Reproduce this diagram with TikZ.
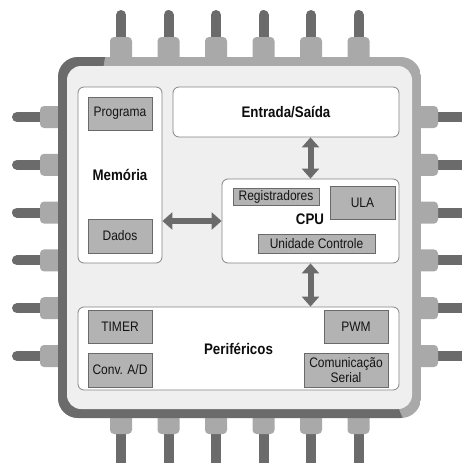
\documentclass[tikz,border=0pt]{standalone}
\usepackage{fontspec}
\setmainfont[FakeStretch=0.87]{Liberation Sans}
\usetikzlibrary{arrows.meta}

\definecolor{pindark}{HTML}{6B6B6B}
\definecolor{pinlight}{HTML}{A9A9A9}
\definecolor{panelgray}{HTML}{EFEFEF}
\definecolor{boxline}{HTML}{858585}
\definecolor{unitfill}{HTML}{B3B3B3}
\definecolor{unitline}{HTML}{6A6A6A}

\tikzset{
  blockbox/.style={draw=boxline, fill=white, rounded corners=6pt, line width=0.8pt,
    font=\fontsize{15.3}{17}\selectfont\bfseries, text=black!95},
  unitbox/.style={draw=unitline, fill=unitfill, line width=0.8pt, align=center,
    font=\fontsize{13.8}{15}\selectfont, text=black!92, inner sep=0pt},
  busarrow/.style={draw=pindark, line width=6pt,
    {Triangle[width=17pt,length=10pt]}-{Triangle[width=17pt,length=10pt]}}
}

\begin{document}
\begin{tikzpicture}[x=1pt,y=-1pt]
\clip (0,0) rectangle (462,463);
% pins
\foreach \i in {0,...,5}{
  \pgfmathsetmacro{\px}{121+47.5*\i}
  \pgfmathsetmacro{\py}{117+47.8*\i}
  \draw[pindark, line width=10pt, line cap=round] (\px,15) -- (\px,45);
  \draw[pindark, line width=10pt, line cap=round] (\px,425) -- (\px,475);
  \draw[pindark, line width=10pt, line cap=round] (17,\py) -- (45,\py);
  \draw[pindark, line width=10pt, line cap=round] (430,\py) -- (475,\py);
  \fill[pinlight, rounded corners=4pt] (\px-11,37) rectangle (\px+11,65);
  \fill[pinlight, rounded corners=4pt] (\px-11,410) rectangle (\px+11,434);
  \fill[pinlight, rounded corners=4pt] (40,\py-11) rectangle (66,\py+11);
  \fill[pinlight, rounded corners=4pt] (413,\py-11) rectangle (438,\py+11);
}
% chip frame
\begin{scope}
  \clip[rounded corners=20pt] (58,57) rectangle (421,418);
  \fill[pinlight] (58,57) rectangle (421,418);
  \fill[pindark] (40,40) -- (108,40) -- (102,75) -- (395,400) -- (412,440) -- (40,440) -- cycle;
\end{scope}
\fill[panelgray, rounded corners=14pt] (67,66) rectangle (412,409);

% main blocks
\node[blockbox, minimum width=84pt, minimum height=176pt] (mem) at (120,175) {Memória};
\node[blockbox, minimum width=226pt, minimum height=50pt] (es) at (286,112) {Entrada/Saída};
\node[blockbox, minimum width=177pt, minimum height=84pt] (cpu) at (310.5,221) {};
\node[font=\fontsize{15.3}{17}\selectfont\bfseries, text=black!95] (cpulbl) at (310,219) {CPU};
\node[blockbox, minimum width=321pt, minimum height=83pt] (per) at (238.5,348.5) {Periféricos};

% units
\node[unitbox, minimum width=64pt, minimum height=33pt] (prog) at (120,113.5) {Programa};
\node[unitbox, minimum width=64pt, minimum height=34pt] (dados) at (120,236) {Dados};
\node[unitbox, minimum width=86pt, minimum height=17pt] (reg) at (276,196.5) {Registradores};
\node[unitbox, minimum width=65pt, minimum height=33pt] (ula) at (362.5,202.5) {ULA};
\node[unitbox, minimum width=117pt, minimum height=19pt] (uc) at (316.5,243.5) {Unidade Controle};
\node[unitbox, minimum width=64pt, minimum height=33pt] (timer) at (120,326.5) {TIMER};
\node[unitbox, minimum width=64pt, minimum height=34pt] (conv) at (120,370) {Conv. A/D};
\node[unitbox, minimum width=64pt, minimum height=33pt] (pwm) at (356,326.5) {PWM};
\node[unitbox, minimum width=84pt, minimum height=34pt] (serial) at (346,370) {Comunicação\\Serial};

% buses
\draw[busarrow] (mem.east |- cpu.west) -- (cpu.west);
\draw[busarrow] (es.south -| cpu.north) -- (cpu.north);
\draw[busarrow] (cpu.south) -- (per.north -| cpu.south);
\end{tikzpicture}
\end{document}
